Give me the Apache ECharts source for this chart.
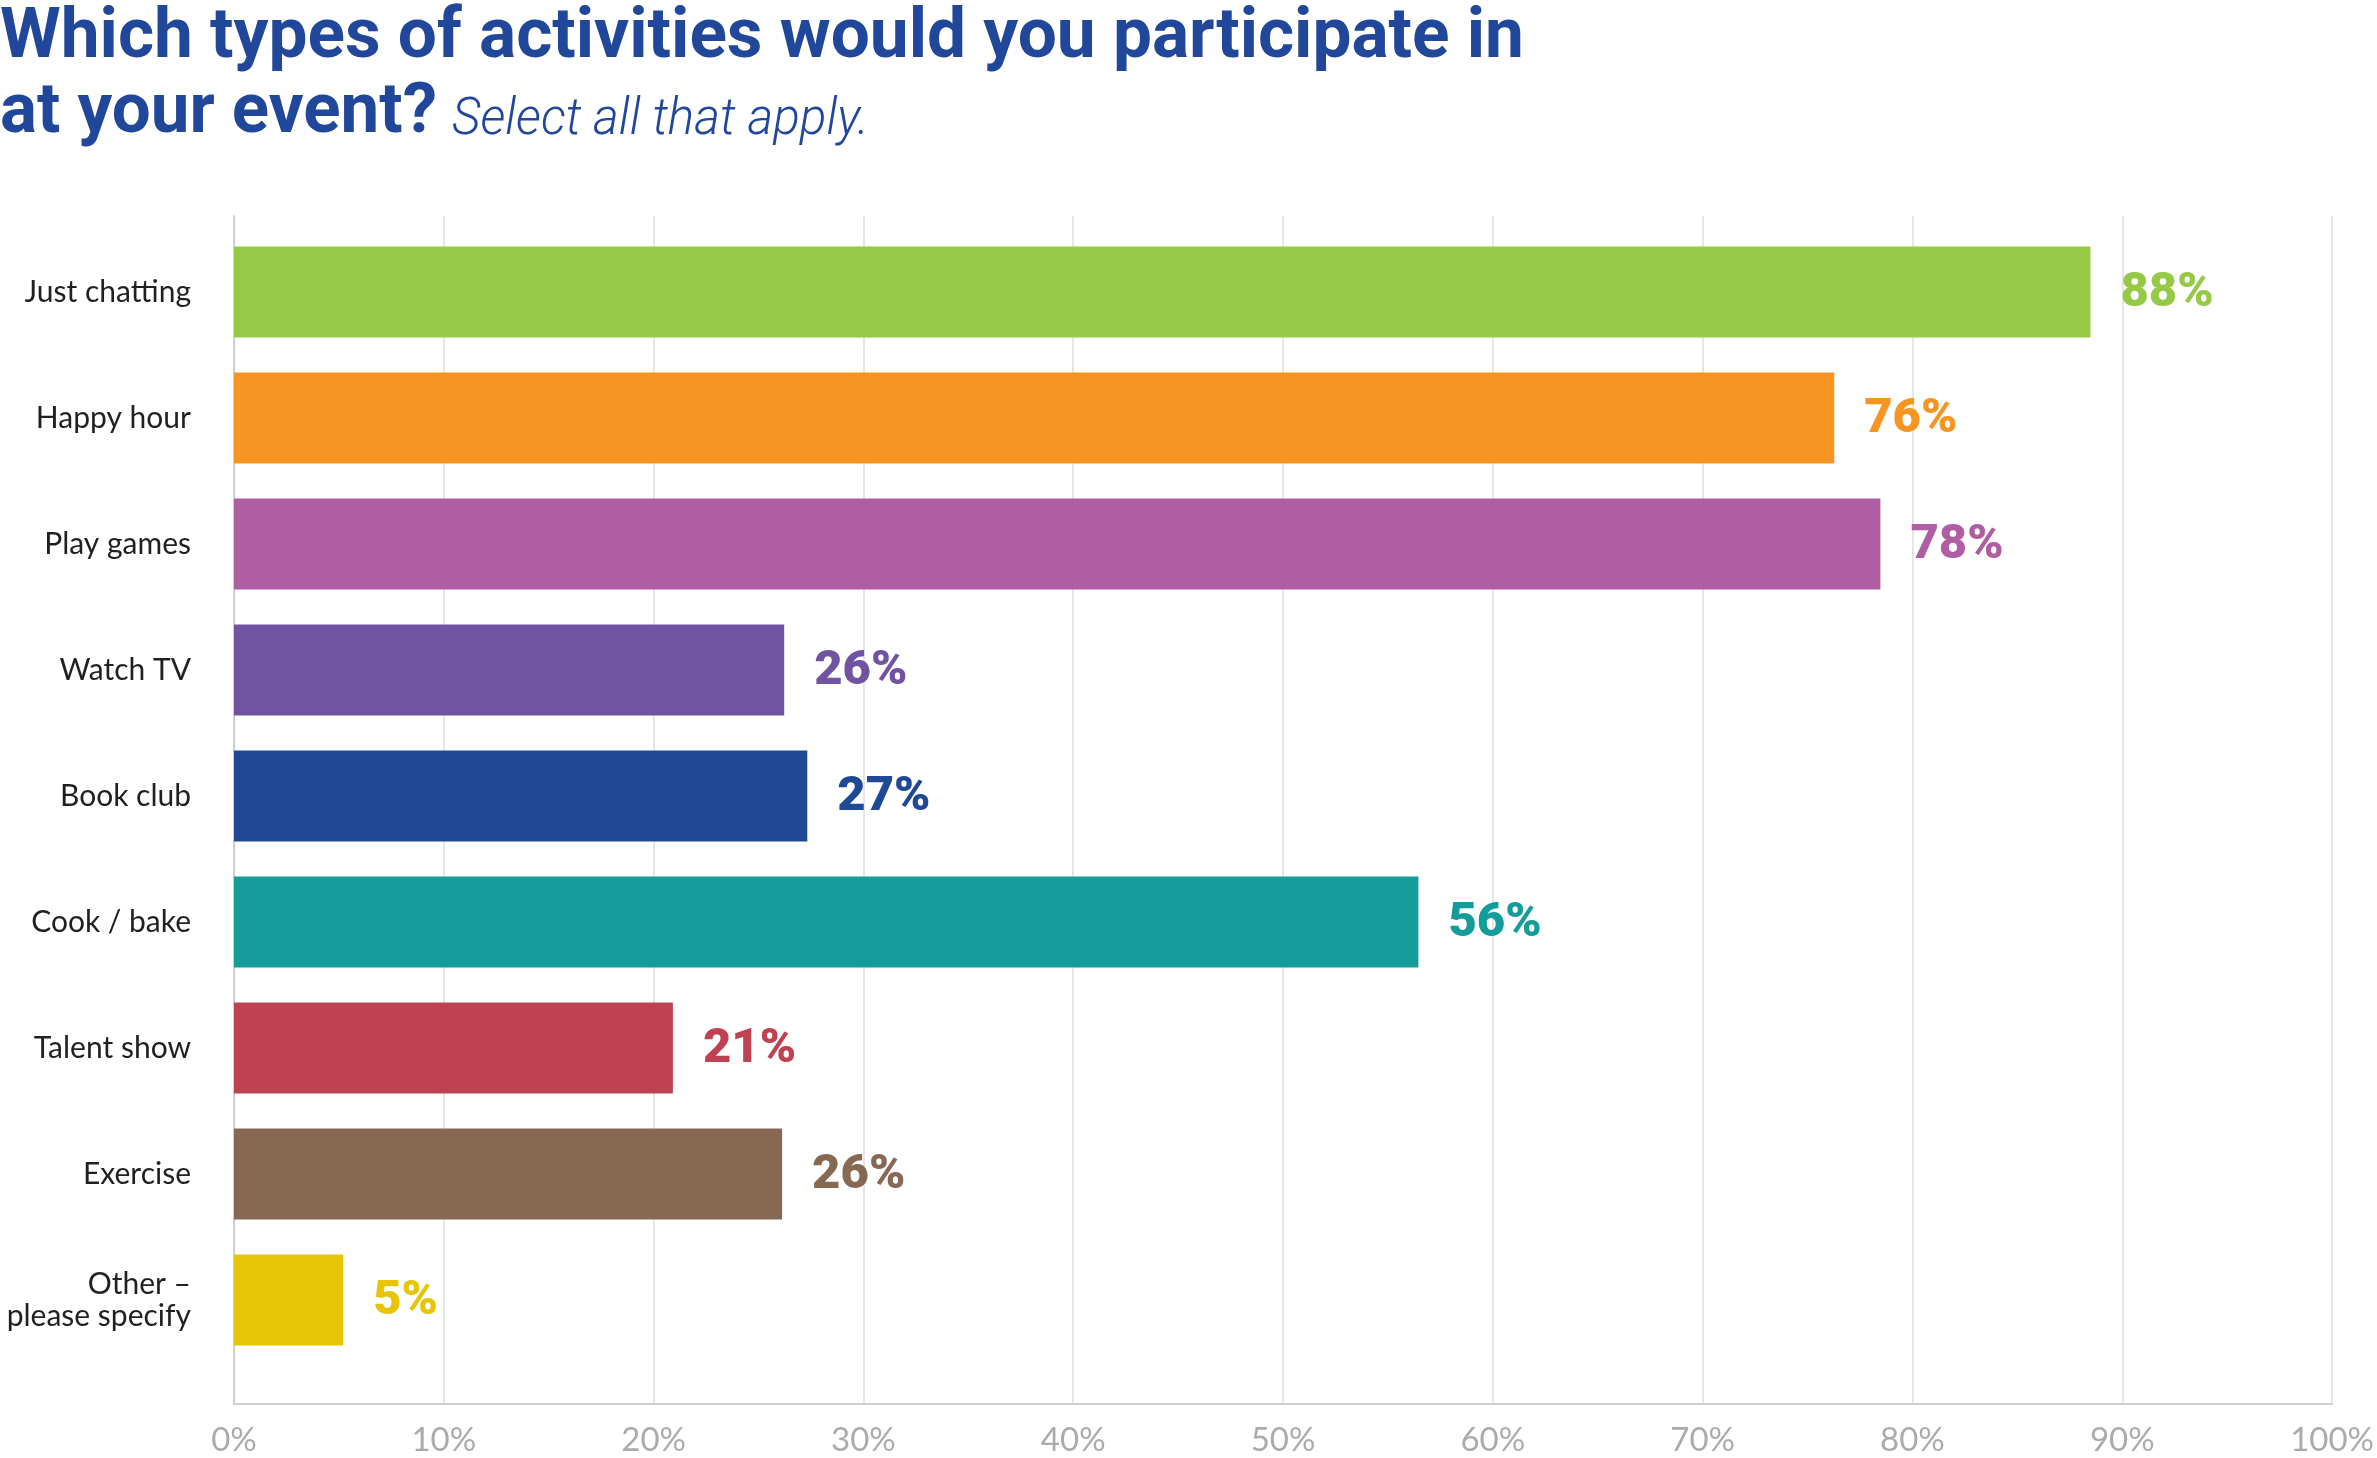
<!DOCTYPE html>
<html>
<head>
<meta charset="utf-8">
<style>
  html, body { margin: 0; padding: 0; background: #ffffff; }
  #chart { width: 2377px; height: 1458px; }
</style>
<script src="https://cdn.jsdelivr.net/npm/echarts@6/dist/echarts.min.js"></script>
</head>
<body>
<div id="chart"></div>
<script>
// ---- Data ----
const categories = [
  'Just chatting', 'Happy hour', 'Play games', 'Watch TV', 'Book club',
  'Cook / bake', 'Talent show', 'Exercise', 'Other –\nplease specify'
];
const values = [88.4, 76.2, 78.4, 26.2, 27.3, 56.4, 20.9, 26.1, 5.2];
const valueLabels = ['88%', '76%', '78%', '26%', '27%', '56%', '21%', '26%', '5%'];
const barColors = ['#96c945', '#f79523', '#b05ea3', '#7054a1', '#1f4895',
                   '#149c9a', '#be4251', '#876852', '#e5c505'];
const tickValues = [0, 10, 20, 30, 40, 50, 60, 70, 80, 90, 100];

const titleLine1 = 'Which types of activities would you participate in';
const titleLine2 = 'at your event?';
const subtitle = 'Select all that apply.';

// ---- helpers ----
const measureCtx = document.createElement('canvas').getContext('2d');
function fitScale(text, font, target) {
  measureCtx.font = font;
  const w = measureCtx.measureText(text).width;
  return w > 0 ? target / w : 1;
}
const titleColor = '#21479a';
const tFont1 = 'bold 70px Roboto';
const sFont = 'italic 300 52px Roboto';

const chart = echarts.init(document.getElementById('chart'), null, { renderer: 'canvas' });

const option = {
  backgroundColor: '#ffffff',
  animation: false,
  grid: [
    { left: 234, right: 43, top: 229, bottom: 95 },
    { left: 234, right: 43, top: 216, bottom: 54 }
  ],
  xAxis: [
    { gridIndex: 0, type: 'value', min: 0, max: 100, interval: 10,
      axisLine: { show: false }, axisTick: { show: false },
      axisLabel: { show: false }, splitLine: { show: false } },
    { gridIndex: 1, type: 'value', min: 0, max: 100, interval: 10,
      axisLine: { show: true, lineStyle: { color: '#cfcfcf', width: 2 } },
      axisTick: { show: false },
      axisLabel: { show: true, formatter: '{value}%', color: '#ababab',
                   fontFamily: 'Lato', fontSize: 33, margin: 20 },
      splitLine: { show: true, lineStyle: { color: '#dedede', width: 1.5 } } }
  ],
  yAxis: [
    { gridIndex: 0, type: 'category', data: categories, inverse: true,
      axisLine: { show: false }, axisTick: { show: false },
      axisLabel: { color: '#231f20', fontFamily: 'Lato', fontSize: 30,
                   margin: 43, lineHeight: 32, align: 'right' },
      splitLine: { show: false } },
    { gridIndex: 1, type: 'value', min: 0, max: 1,
      axisLine: { show: true, lineStyle: { color: '#cfcfcf', width: 2 } },
      axisTick: { show: false }, axisLabel: { show: false },
      splitLine: { show: false } }
  ],
  series: [
    {
      type: 'bar',
      xAxisIndex: 0, yAxisIndex: 0,
      barWidth: 91,
      z: 3,
      data: values.map((v, i) => ({
        value: v,
        itemStyle: { color: barColors[i] },
        label: { color: barColors[i] }
      })),
      label: {
        show: true,
        position: 'right',
        distance: 30,
        fontFamily: 'Roboto',
        fontWeight: 900,
        fontSize: 49,
        offset: [0, 2],
        formatter: p => valueLabels[p.dataIndex]
      }
    }
  ],
  graphic: [
    { type: 'text', x: 0, y: 39,
      scaleX: fitScale(titleLine1, tFont1, 1524),
      style: { text: titleLine1, font: tFont1, fill: titleColor,
               align: 'left', verticalAlign: 'middle' } },
    { type: 'text', x: 0, y: 114,
      scaleX: fitScale(titleLine2, tFont1, 437),
      style: { text: titleLine2, font: tFont1, fill: titleColor,
               align: 'left', verticalAlign: 'middle' } },
    { type: 'text', x: 452, y: 121,
      scaleX: fitScale(subtitle, sFont, 417),
      style: { text: subtitle, font: sFont, fill: titleColor,
               align: 'left', verticalAlign: 'middle' } }
  ]
};

chart.setOption(option);
</script>
</body>
</html>
